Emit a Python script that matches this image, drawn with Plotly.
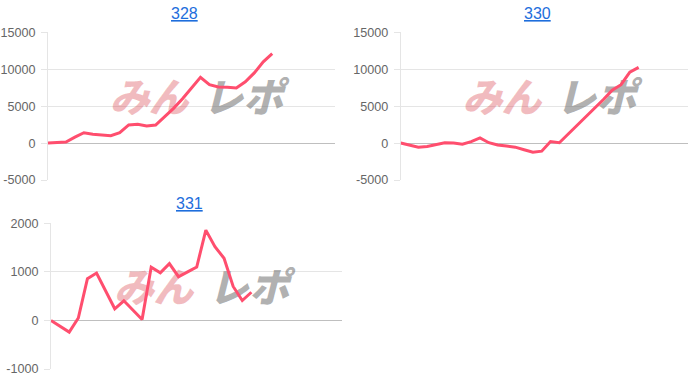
import plotly.graph_objects as go

# ---------------- data ----------------
titles = ["328", "330", "331"]

values_328 = [0, 50, 150, 800, 1400, 1200, 1050, 1000, 1400, 2450, 2550, 2300, 2450,
              3600, 4700, 6000, 7500, 8900, 7900, 7600, 7550, 7450, 8300, 9500, 11000, 12100]
values_330 = [0, -300, -550, -450, -150, 50, 20, -150, 200, 700, 50, -250, -400, -550,
              -900, -1250, -1100, 200, 50, 1200, 2400, 3550, 4700, 5900, 7150, 7900, 9600, 10250]
values_331 = [0, -120, -240, 50, 860, 975, 600, 240, 405, 210, 20, 1095, 980, 1170, 900,
              1000, 1100, 1860, 1520, 1280, 700, 410, 580]

days_328 = list(range(1, len(values_328) + 1))
days_330 = list(range(1, len(values_330) + 1))
days_331 = list(range(1, len(values_331) + 1))

yticks_big = [-5000, 0, 5000, 10000, 15000]
yticklabels_big = ["-5000", "0", "5000", "10000", "15000"]
yticks_small = [-1000, 0, 1000, 2000]
yticklabels_small = ["-1000", "0", "1000", "2000"]

logo_chars = ["み", "ん", "レ", "ポ"]

# ---------------- styling / layout ----------------
W, H = 700, 379
LINE = "rgb(255,78,110)"
GRID = "rgba(0,0,0,0.1)"
ZERO = "rgba(0,0,0,0.25)"
TICKFONT = dict(family="Liberation Sans, Arial, sans-serif", size=12.6, color="#666666")

panels = [
    dict(days=days_328, vals=values_328, title=titles[0], xpx=(48, 335), ypx=(32.3, 180),
         xr=(1, 33.0), yr=(-5000, 15000), tv=yticks_big, tt=yticklabels_big, tx=184, ty=13.5),
    dict(days=days_330, vals=values_330, title=titles[1], xpx=(400.7, 688), ypx=(32.3, 180),
         xr=(1, 33.6), yr=(-5000, 15000), tv=yticks_big, tt=yticklabels_big, tx=537, ty=13.5),
    dict(days=days_331, vals=values_331, title=titles[2], xpx=(51, 342), ypx=(223.3, 369),
         xr=(1, 32.95), yr=(-1000, 2000), tv=yticks_small, tt=yticklabels_small, tx=189.5, ty=203.5),
]

logo_fx = [0.285, 0.42, 0.61, 0.75]
logo_fy = 0.528
logo_colors = ["rgba(215,60,70,0.34)", "rgba(215,60,70,0.34)",
               "rgba(110,110,110,0.55)", "rgba(110,110,110,0.55)"]

fig = go.Figure()
annotations = []
for i, p in enumerate(panels):
    n = "" if i == 0 else str(i + 1)
    xa, ya = "x" + n, "y" + n
    x0, x1 = p["xr"]
    y0, y1 = p["yr"]
    # watermark (drawn first, below line)
    lx = [x0 + f * (x1 - x0) for f in logo_fx]
    ly = [y0 + logo_fy * (y1 - y0)] * 4
    fig.add_trace(go.Scatter(
        x=lx, y=ly, mode="text", text=logo_chars, textposition="middle center",
        textfont=dict(family="Noto Sans CJK JP", size=40, color=logo_colors,
                      weight=900, style="italic"),
        hoverinfo="skip", showlegend=False, xaxis=xa, yaxis=ya, cliponaxis=False))
    fig.add_trace(go.Scatter(
        x=p["days"], y=p["vals"], mode="lines",
        line=dict(color=LINE, width=3), showlegend=False, xaxis=xa, yaxis=ya))
    xd = [p["xpx"][0] / W, p["xpx"][1] / W]
    yd = [1 - p["ypx"][1] / H, 1 - p["ypx"][0] / H]
    fig.layout["xaxis" + n] = dict(domain=xd, range=list(p["xr"]), showgrid=False,
                                   zeroline=False, showline=False, showticklabels=False,
                                   ticks="", anchor=ya, fixedrange=True, automargin=False)
    fig.layout["yaxis" + n] = dict(domain=yd, range=list(p["yr"]), tickvals=p["tv"],
                                   ticktext=p["tt"], showgrid=True, gridcolor=GRID, gridwidth=1,
                                   zeroline=True, zerolinecolor=ZERO, zerolinewidth=1,
                                   showline=True, linecolor=GRID, linewidth=1,
                                   ticks="outside", ticklen=6, tickcolor=GRID,
                                   ticklabelstandoff=3, tickfont=TICKFONT,
                                   anchor=xa, fixedrange=True, automargin=False)
    annotations.append(dict(
        text=p["title"], x=p["tx"] / W, y=1 - p["ty"] / H, xref="paper", yref="paper",
        xanchor="center", yanchor="middle", showarrow=False,
        font=dict(family="Liberation Sans, Arial, sans-serif", size=16,
                  color="rgb(30,110,220)", lineposition="under")))

fig.update_layout(width=W, height=H, margin=dict(l=0, r=0, t=0, b=0, autoexpand=False),
                  paper_bgcolor="white", plot_bgcolor="white",
                  annotations=annotations, showlegend=False)

fig.write_html("out.html", config={"displayModeBar": False})
